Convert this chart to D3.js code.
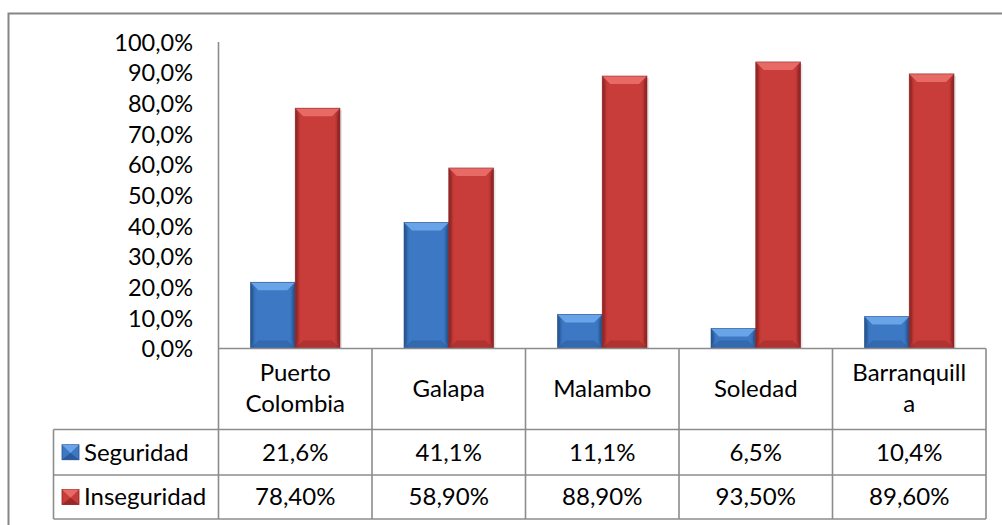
<!DOCTYPE html>
<html><head><meta charset="utf-8">
<script src="https://cdn.jsdelivr.net/npm/d3@7/dist/d3.min.js"></script>
<style>
html,body{margin:0;padding:0;background:#fff;}
svg{display:block;font-family:Lato,"Noto Sans",sans-serif;}
</style></head>
<body>
<svg id="c" width="1002" height="525"></svg>
<script>
const categories = [["Puerto","Colombia"],["Galapa"],["Malambo"],["Soledad"],["Barranquill","a"]];
const seriesNames = ["Seguridad","Inseguridad"];
const seguridad = [21.6, 41.1, 11.1, 6.5, 10.4];
const inseguridad = [78.4, 58.9, 88.9, 93.5, 89.6];
const seguridadLabels = ["21,6%","41,1%","11,1%","6,5%","10,4%"];
const inseguridadLabels = ["78,40%","58,90%","88,90%","93,50%","89,60%"];
const yTicks = [0,10,20,30,40,50,60,70,80,90,100];

const svg = d3.select("#c");
const fs = 24, fsTick = 23.5;
const plotLeft = 218.5, plotRight = 986, yTop = 42, yBottom = 348.5;
const legendLeft = 53.5;
const rowY = [348.5, 429.5, 475, 519];

const catKeys = categories.map(c => c.join(" "));
const x = d3.scaleBand().domain(catKeys).range([plotLeft, plotRight]).padding(0);
const y = d3.scaleLinear().domain([0,100]).range([yBottom, yTop]);
const x1 = d3.scaleBand().domain(seriesNames).range([32, x.bandwidth()-32]).padding(0);

const colors = {
  Seguridad: {base:"#3C78C3", dark:"#2A5A99", light:"#6AA4E8", edge:"#24518A"},
  Inseguridad: {base:"#C83C39", dark:"#98292A", light:"#E86A66", edge:"#8A2322"}
};

const defs = svg.append("defs");
seriesNames.forEach(s => {
  const c = colors[s];
  const g = defs.append("linearGradient").attr("id","g"+s).attr("x1","0").attr("x2","1").attr("y1","0").attr("y2","0");
  g.append("stop").attr("offset","0").attr("stop-color",c.dark);
  g.append("stop").attr("offset","0.12").attr("stop-color",c.base);
  g.append("stop").attr("offset","0.5").attr("stop-color",c.base);
  g.append("stop").attr("offset","0.88").attr("stop-color",c.base);
  g.append("stop").attr("offset","1").attr("stop-color",c.dark);
});

// background + frame
svg.append("rect").attr("width",1002).attr("height",525).attr("fill","#fff");
svg.append("rect").attr("x",8.5).attr("y",13.5).attr("width",1010).attr("height",530)
  .attr("fill","none").attr("stroke","#868686").attr("stroke-width",2);

// bars
function drawBar(g, x0, w, v, s, bev) {
  const yT = y(v), yB = y(0), h = yB - yT;
  const c = colors[s];
  const b = Math.min(bev, h/2, w/2);
  g.append("rect").attr("x", x0+2).attr("y", yT+2).attr("width", w).attr("height", h-2)
    .attr("fill","#000").attr("opacity",0.1);
  g.append("rect").attr("x", x0).attr("y", yT).attr("width", w).attr("height", h)
    .attr("fill","url(#g"+s+")");
  g.append("path").attr("d",`M${x0},${yT}L${x0+w},${yT}L${x0+w-b},${yT+b}L${x0+b},${yT+b}Z`)
    .attr("fill",c.light);
  g.append("path").attr("d",`M${x0},${yB}L${x0+w},${yB}L${x0+w-b},${yB-b}L${x0+b},${yB-b}Z`)
    .attr("fill",c.dark).attr("opacity",0.5);
  g.append("path").attr("d",`M${x0},${yT}L${x0+b*0.35},${yT+b}L${x0+b*0.35},${yB-b}L${x0},${yB}Z`)
    .attr("fill",c.edge).attr("opacity",0.5);
  g.append("path").attr("d",`M${x0+w},${yT}L${x0+w-b*0.35},${yT+b}L${x0+w-b*0.35},${yB-b}L${x0+w},${yB}Z`)
    .attr("fill",c.edge).attr("opacity",0.6);
  g.append("rect").attr("x", x0).attr("y", yT).attr("width", w).attr("height", h)
    .attr("fill","none").attr("stroke",c.edge).attr("stroke-width",0.8).attr("opacity",0.7);
}

const barsG = svg.append("g");
const seriesVals = {Seguridad: seguridad, Inseguridad: inseguridad};
seriesNames.forEach(s => {
  seriesVals[s].forEach((v,i) => {
    drawBar(barsG, x(catKeys[i]) + x1(s), x1.bandwidth(), v, s, 8);
  });
});

// y axis labels
const tf = "Lato,'Noto Sans',sans-serif";
const yAxis = d3.axisLeft(y).tickValues(yTicks).tickSize(0).tickPadding(0)
  .tickFormat(d => d3.format(".1f")(d).replace(".",",") + "%");
const ya = svg.append("g").attr("transform",`translate(193,0)`).call(yAxis);
ya.select(".domain").remove();
ya.selectAll("text").attr("font-size",fsTick).attr("font-family",tf)
  .attr("fill","#000").attr("dy","0.35em");

// grid lines of axis & table
const lc = "#8C8C8C", lw = 1.6;
const lines = svg.append("g").attr("stroke",lc).attr("stroke-width",lw).attr("fill","none");
lines.append("line").attr("x1",plotLeft).attr("x2",plotLeft).attr("y1",yTop).attr("y2",rowY[3]);
lines.append("line").attr("x1",plotLeft).attr("x2",plotRight).attr("y1",rowY[0]).attr("y2",rowY[0]);
[1,2,3].forEach(k => lines.append("line").attr("x1",legendLeft).attr("x2",plotRight).attr("y1",rowY[k]).attr("y2",rowY[k]));
lines.append("line").attr("x1",legendLeft).attr("x2",legendLeft).attr("y1",rowY[1]).attr("y2",rowY[3]);
catKeys.forEach(k => {
  const xr = x(k) + x.bandwidth();
  lines.append("line").attr("x1",xr).attr("x2",xr).attr("y1",rowY[0]).attr("y2",rowY[3]);
});

// category labels
categories.forEach((c,i) => {
  const cx = x(catKeys[i]) + x.bandwidth()/2;
  const t = svg.append("text").attr("x",cx).attr("text-anchor","middle").attr("font-size",fs).attr("font-family",tf).attr("fill","#000");
  if (c.length === 1) {
    t.attr("y",(rowY[0]+rowY[1])/2).attr("dy","0.35em").text(c[0]);
  } else {
    t.append("tspan").attr("x",cx).attr("y",381).text(c[0]);
    t.append("tspan").attr("x",cx).attr("y",412).text(c[1]);
  }
});

// data rows + legend
[seguridadLabels, inseguridadLabels].forEach((labs,r) => {
  const cy = (rowY[r+1]+rowY[r+2])/2;
  labs.forEach((l,i) => {
    svg.append("text").attr("x", x(catKeys[i]) + x.bandwidth()/2).attr("y",cy).attr("dy","0.35em")
      .attr("text-anchor","middle").attr("font-size",fs).attr("font-family",tf).attr("fill","#000").text(l);
  });
  const s = seriesNames[r], c = colors[s];
  const kx = 62, ky = cy - 7.5, kw = 17, kh = 15;
  const lg = svg.append("g");
  lg.append("rect").attr("x",kx).attr("y",ky).attr("width",kw).attr("height",kh).attr("fill",c.base).attr("stroke",c.edge).attr("stroke-width",0.8);
  lg.append("path").attr("d",`M${kx},${ky}L${kx+kw},${ky}L${kx+kw/2},${ky+kh*0.55}Z`).attr("fill",c.light);
  lg.append("path").attr("d",`M${kx},${ky+kh}L${kx+kw},${ky+kh}L${kx+kw/2},${ky+kh*0.55}Z`).attr("fill",c.dark);
  svg.append("text").attr("x",84).attr("y",cy).attr("dy","0.35em").attr("font-size",fs).attr("font-family",tf).attr("fill","#000").text(s);
});
</script>
</body></html>
